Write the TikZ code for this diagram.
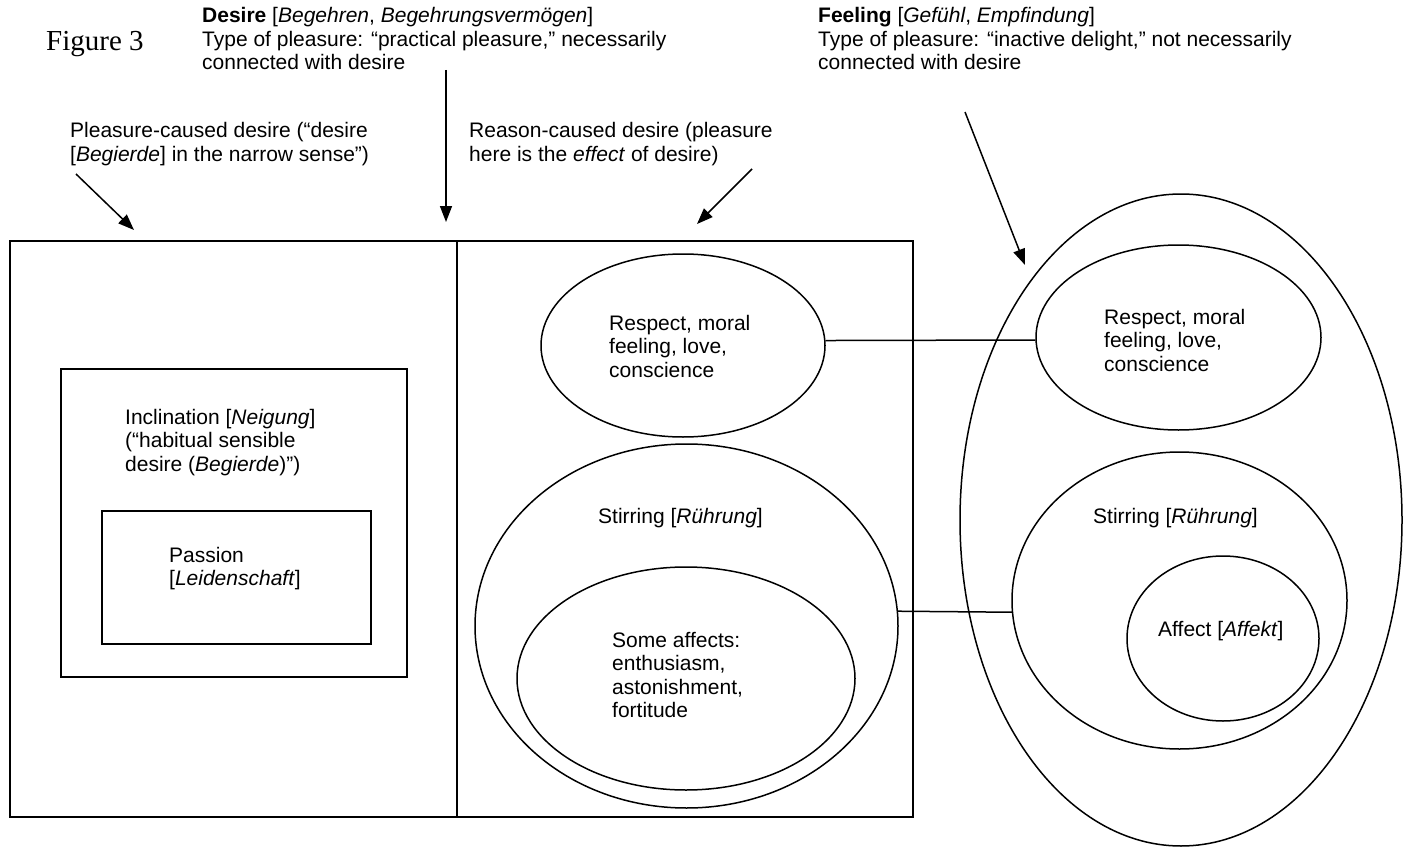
\documentclass[tikz,border=0pt]{standalone}
\usepackage{fontspec}
\setmainfont{Liberation Sans}
\newfontfamily\figfont{Liberation Serif}
\usetikzlibrary{shapes.geometric,arrows.meta}
\newcommand{\ml}[1]{\begin{tabular}[t]{@{}l@{}}#1\end{tabular}}
\begin{document}
\begin{tikzpicture}[x=1pt,y=-1pt,
  txt/.style={anchor=base west,inner sep=0pt,font=\fontsize{21}{23.5}\selectfont},
  frame/.style={draw,line width=1.8pt,inner sep=0pt},
  frameline/.style={line width=1.8pt},
  oval/.style={draw,ellipse,line width=1.5pt,inner sep=0pt},
  link/.style={line width=1.5pt},
  pointer/.style={line width=1.5pt,-{Triangle[length=16pt,width=12pt]}}]
\path[use as bounding box] (0,0) rectangle (1411,848);
\fill[white] (0,0) rectangle (1411,848);

% boxes
\node[frame,minimum width=903pt,minimum height=576pt] (desirebox) at (461.5,529) {};
\coordinate (divtop) at (457,241);
\coordinate (divbot) at (457,817);
\draw[frameline] (divtop) -- (divbot);
\node[frame,minimum width=346pt,minimum height=308pt] (inclination) at (234,523) {};
\node[frame,minimum width=269pt,minimum height=133pt] (passion) at (236.5,577.5) {};

% ellipses
\node[oval,minimum width=284pt,minimum height=183pt] (respL) at (683,345.5) {};
\node[oval,minimum width=423pt,minimum height=364pt] (stirL) at (686.5,626) {};
\node[oval,minimum width=338pt,minimum height=223pt] (affL) at (686,678.5) {};
\node[oval,minimum width=442pt,minimum height=652pt] (feel) at (1181,520) {};
\node[oval,minimum width=285pt,minimum height=185pt] (respR) at (1178.5,337.5) {};
\node[oval,minimum width=335pt,minimum height=297pt] (stirR) at (1179.5,600.5) {};
\node[oval,minimum width=192pt,minimum height=165pt] (affR) at (1223,638.5) {};

% connectors
\draw[link] (respL.2) -- (respR.181);
\draw[link] (stirL.4) -- (stirR.184);

% arrows
\coordinate (a1s) at (446,70);   \coordinate (a1e) at (446,222);
\coordinate (a2s) at (76,174);   \coordinate (a2e) at (134,230);
\coordinate (a3s) at (752,169);  \coordinate (a3e) at (697,224);
\coordinate (a4s) at (965,112);  \coordinate (a4e) at (1025,265);
\draw[pointer] (a1s) -- (a1e);
\draw[pointer] (a2s) -- (a2e);
\draw[pointer] (a3s) -- (a3e);
\draw[pointer] (a4s) -- (a4e);

% texts
\node[txt] (figlabel) at (46,51) {\figfont\fontsize{29}{32}\selectfont Figure 3};
\node[txt] (desiretxt) at (202,23) {\ml{\textbf{Desire} [\textit{Begehren}, \textit{Begehrungsvermögen}]\\
Type of pleasure: “practical pleasure,” necessarily\\
connected with desire}};
\node[txt] (pleasuretxt) at (70,138) {\ml{Pleasure-caused desire (“desire\\
{}[\textit{Begierde}] in the narrow sense”)}};
\node[txt] (reasontxt) at (469,138) {\ml{Reason-caused desire (pleasure\\
here is the \textit{effect} of desire)}};
\node[txt] (feeltxt) at (818,23) {\ml{\textbf{Feeling} [\textit{Gefühl}, \textit{Empfindung}]\\
Type of pleasure: “inactive delight,” not necessarily\\
connected with desire}};
\node[txt] (incltxt) at (125,424) {\ml{Inclination [\textit{Neigung}]\\
(“habitual sensible\\
desire (\textit{Begierde})”)}};
\node[txt] (passtxt) at (169,562) {\ml{Passion\\
{}[\textit{Leidenschaft}]}};
\node[txt] (respLtxt) at (609,330) {\ml{Respect, moral\\feeling, love,\\conscience}};
\node[txt] (stirLtxt) at (598,523) {Stirring [\textit{Rührung}]};
\node[txt] (affLtxt) at (612,647) {\ml{Some affects:\\enthusiasm,\\astonishment,\\fortitude}};
\node[txt] (respRtxt) at (1104,324) {\ml{Respect, moral\\feeling, love,\\conscience}};
\node[txt] (stirRtxt) at (1093,523) {Stirring [\textit{Rührung}]};
\node[txt] (affRtxt) at (1158,636) {Affect [\textit{Affekt}]};
\end{tikzpicture}
\end{document}
